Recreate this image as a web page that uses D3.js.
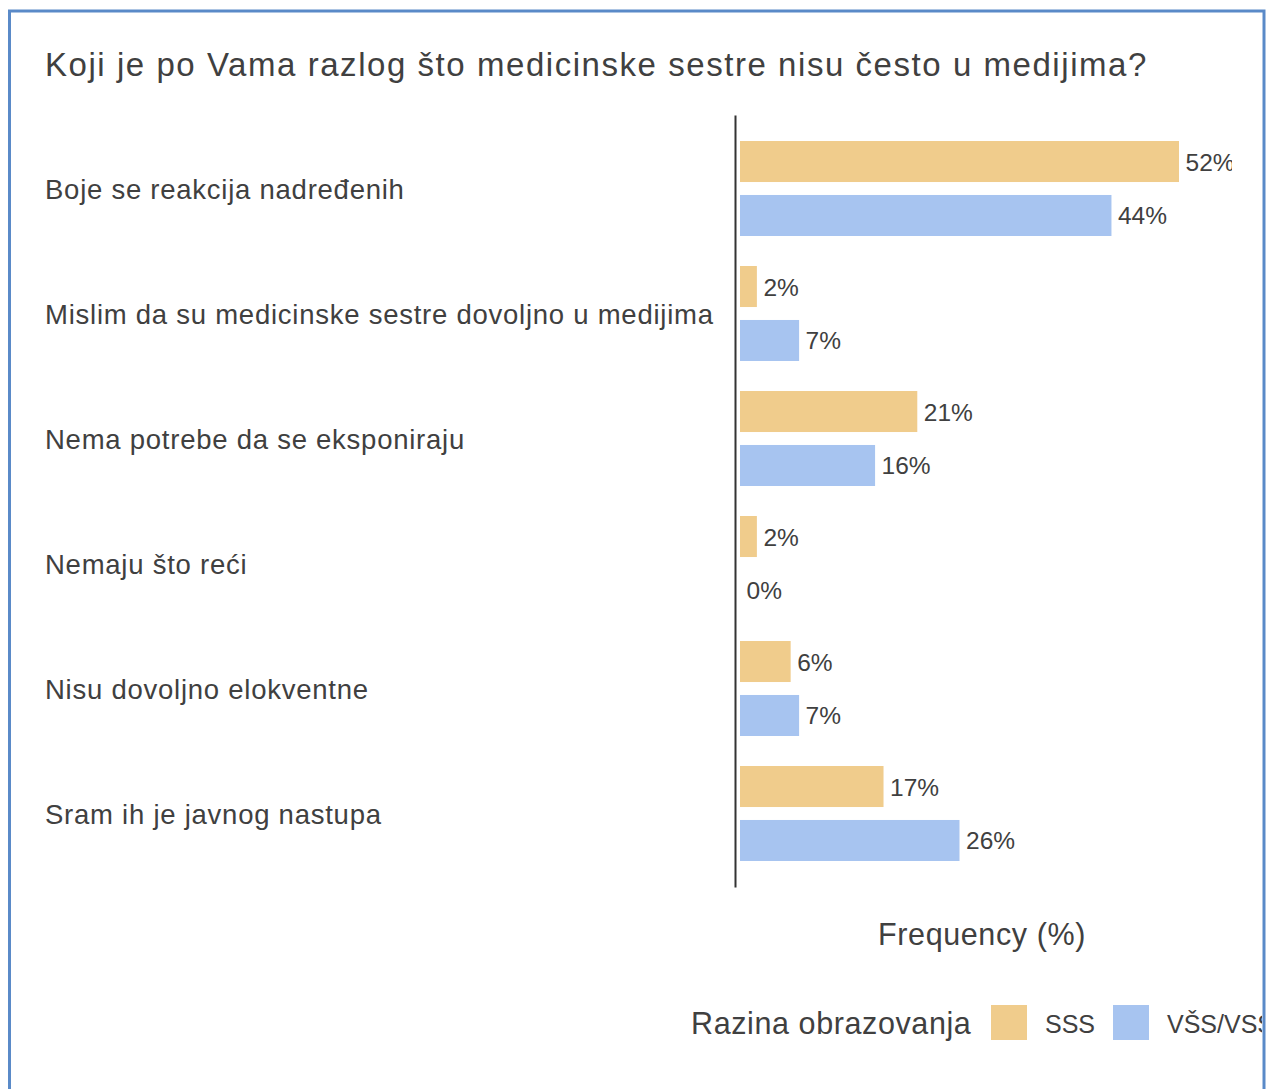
<!DOCTYPE html>
<html>
<head>
<meta charset="utf-8">
<script src="https://cdn.jsdelivr.net/npm/d3@7"></script>
<style>
  html, body { margin: 0; padding: 0; background: #fff; }
  svg { display: block; }
  text { font-family: "Liberation Sans", Arial, sans-serif; fill: #404040; }
</style>
</head>
<body>
<svg id="chart" width="1268" height="1089"></svg>
<script>
const title = "Koji je po Vama razlog što medicinske sestre nisu često u medijima?";
const categories = [
  "Boje se reakcija nadređenih",
  "Mislim da su medicinske sestre dovoljno u medijima",
  "Nema potrebe da se eksponiraju",
  "Nemaju što reći",
  "Nisu dovoljno elokventne",
  "Sram ih je javnog nastupa"
];
const seriesNames = ["SSS", "VŠS/VSS"];
const sssValues = [52, 2, 21, 2, 6, 17];
const vssValues = [44, 7, 16, 0, 7, 26];
const seriesColors = ["#F0CC8C", "#A7C4F0"];
const axisTitle = "Frequency (%)";
const legendTitle = "Razina obrazovanja";

const svg = d3.select("#chart");

const defs = svg.append("defs");
defs.append("clipPath").attr("id", "frameClip")
  .append("rect").attr("x", 11).attr("y", 12).attr("width", 1251).attr("height", 1100);
defs.append("clipPath").attr("id", "plotClip")
  .append("rect").attr("x", 700).attr("y", 100).attr("width", 532).attr("height", 820);

// Frame
svg.append("rect")
  .attr("x", 9.5).attr("y", 11).attr("width", 1254.5).attr("height", 1100)
  .attr("fill", "none").attr("stroke", "#5A8AC8").attr("stroke-width", 3);

const g = svg.append("g").attr("clip-path", "url(#frameClip)");

g.append("text")
  .attr("x", 45).attr("y", 76)
  .attr("font-size", 33)
  .attr("letter-spacing", 1.55)
  .text(title);

const y = d3.scaleBand()
  .domain(categories)
  .range([115, 887])
  .paddingInner(0.24)
  .paddingOuter(0.208);

const ySub = d3.scaleBand()
  .domain(seriesNames)
  .range([0, y.bandwidth()])
  .paddingInner(0.24);

const x = d3.scaleLinear().domain([0, 52]).range([740, 1179]);

// Category labels
g.append("g").selectAll("text")
  .data(categories)
  .join("text")
  .attr("x", 45)
  .attr("y", d => y(d) + y.bandwidth() / 2 + 10)
  .attr("font-size", 27.5)
  .attr("letter-spacing", 0.75)
  .text(d => d);

const rows = categories.map((c, i) => ({
  cat: c,
  vals: [
    { s: seriesNames[0], v: sssValues[i], color: seriesColors[0] },
    { s: seriesNames[1], v: vssValues[i], color: seriesColors[1] }
  ]
}));

const plot = g.append("g").attr("clip-path", "url(#plotClip)");

const grp = plot.selectAll("g.row")
  .data(rows)
  .join("g")
  .attr("class", "row")
  .attr("transform", d => `translate(0,${y(d.cat)})`);

grp.selectAll("rect")
  .data(d => d.vals)
  .join("rect")
  .attr("x", x(0))
  .attr("y", d => ySub(d.s))
  .attr("width", d => x(d.v) - x(0))
  .attr("height", ySub.bandwidth())
  .attr("fill", d => d.color);

grp.selectAll("text")
  .data(d => d.vals)
  .join("text")
  .attr("x", d => x(d.v) + 6.5)
  .attr("y", d => ySub(d.s) + ySub.bandwidth() / 2 + 9)
  .attr("font-size", 24.5)
  .attr("fill", "#333")
  .text(d => d.v + "%");

// Axis line (vertical baseline)
const axis = d3.axisLeft(y).tickSize(0).tickFormat("");
const axG = g.append("g").attr("transform", "translate(735,0)").call(axis);
axG.select(".domain").attr("stroke", "#333").attr("stroke-width", 2);

// Axis title
g.append("text")
  .attr("x", 982).attr("y", 945)
  .attr("text-anchor", "middle")
  .attr("font-size", 30.5)
  .attr("letter-spacing", 0.6)
  .text(axisTitle);

// Legend
const leg = g.append("g");
leg.append("text")
  .attr("x", 691).attr("y", 1034)
  .attr("font-size", 30.5)
  .attr("letter-spacing", 0.6)
  .text(legendTitle);

const legendItems = [
  { name: seriesNames[0], color: seriesColors[0], sx: 991, tx: 1045 },
  { name: seriesNames[1], color: seriesColors[1], sx: 1113, tx: 1167 }
];
leg.selectAll("rect.sw")
  .data(legendItems)
  .join("rect")
  .attr("class", "sw")
  .attr("x", d => d.sx).attr("y", 1005)
  .attr("width", 36).attr("height", 35)
  .attr("fill", d => d.color);
leg.selectAll("text.lt")
  .data(legendItems)
  .join("text")
  .attr("class", "lt")
  .attr("x", d => d.tx).attr("y", 1033)
  .attr("font-size", 25)
  .text(d => d.name);
</script>
</body>
</html>
